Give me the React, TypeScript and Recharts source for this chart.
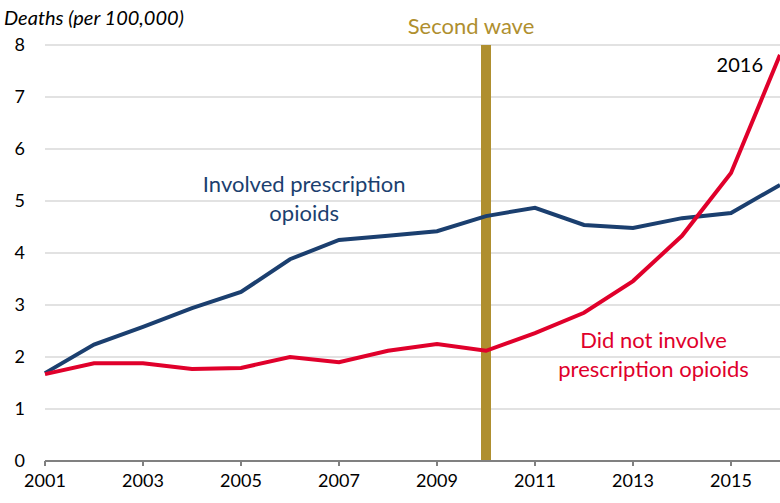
import { CartesianGrid, Line, LineChart, ReferenceDot, ReferenceLine, XAxis, YAxis } from "recharts"

const years = [2001, 2002, 2003, 2004, 2005, 2006, 2007, 2008, 2009, 2010, 2011, 2012, 2013, 2014, 2015, 2016]
const involved = [1.69, 2.24, 2.58, 2.94, 3.25, 3.88, 4.25, 4.33, 4.42, 4.71, 4.87, 4.54, 4.48, 4.67, 4.77, 5.31]
const notInvolved = [1.67, 1.88, 1.88, 1.77, 1.79, 2.0, 1.9, 2.12, 2.25, 2.12, 2.46, 2.85, 3.46, 4.33, 5.54, 7.81]
const xTicks = [2001, 2003, 2005, 2007, 2009, 2011, 2013, 2015]
const yTicks = [0, 1, 2, 3, 4, 5, 6, 7, 8]

const data = years.map((year, i) => ({ year, involved: involved[i], notInvolved: notInvolved[i] }))

const FONT = "Lato, 'Open Sans', sans-serif"
const BLUE = "#1B3F6F"
const RED = "#E0002B"
const GOLD = "#AF8F2F"

// multi-line centered label, first baseline at the point
const textLabel = (lines: string[], color: string, size = 22) => (props: any) => {
  const { viewBox } = props
  const cx = viewBox.x + viewBox.width / 2
  const cy = viewBox.y + viewBox.height / 2
  return (
    <text x={cx} y={cy} fill={color} fontSize={size} fontFamily={FONT} textAnchor="middle">
      {lines.map((l, i) => (
        <tspan key={i} x={cx} dy={i === 0 ? 0 : 29}>
          {l}
        </tspan>
      ))}
    </text>
  )
}

// label above the second-wave bar
const waveLabel = (props: any) => {
  const { viewBox } = props
  return (
    <text x={viewBox.x - 15} y={viewBox.y - 11} fill={GOLD} fontSize={22} fontFamily={FONT} textAnchor="middle">
      Second wave
    </text>
  )
}

export default function App() {
  return (
    <div style={{ position: "absolute", left: 0, top: 0, width: 780, height: 503, background: "#fff" }}>
      <LineChart width={780} height={503} data={data} margin={{ top: 45, right: 0, left: 0, bottom: 0 }}>
        <CartesianGrid vertical={false} stroke="#d9d9d9" strokeWidth={1.5} />
        <XAxis
          dataKey="year"
          type="number"
          domain={[2001, 2016]}
          ticks={xTicks}
          height={42}
          axisLine={{ stroke: "#808080", strokeWidth: 2 }}
          tickLine={{ stroke: "#808080", strokeWidth: 2 }}
          tickSize={5}
          tickMargin={8}
          tick={{ fill: "#000", fontSize: 18, fontFamily: FONT }}
          interval={0}
        />
        <YAxis
          domain={[0, 8]}
          ticks={yTicks}
          width={45}
          axisLine={false}
          tickLine={false}
          tickMargin={14}
          tick={{ fill: "#000", fontSize: 18, fontFamily: FONT }}
        />
        <ReferenceLine x={2010} stroke={GOLD} strokeWidth={10} label={waveLabel} />
        <Line type="linear" dataKey="involved" stroke={BLUE} strokeWidth={4} dot={false} isAnimationActive={false} />
        <Line type="linear" dataKey="notInvolved" stroke={RED} strokeWidth={4} dot={false} isAnimationActive={false} />
        <ReferenceDot x={2006.29} y={5.17} r={0} label={textLabel(["Involved prescription", "opioids"], BLUE)} />
        <ReferenceDot x={2013.42} y={2.17} r={0} label={textLabel(["Did not involve", "prescription opioids"], RED)} />
        <ReferenceDot x={2015.18} y={7.48} r={0} label={textLabel(["2016"], "#000", 20)} />
        <text x={4} y={25} fontSize={20} fontStyle="italic" fontFamily={FONT} fill="#000">
          Deaths (per 100,000)
        </text>
      </LineChart>
    </div>
  )
}
